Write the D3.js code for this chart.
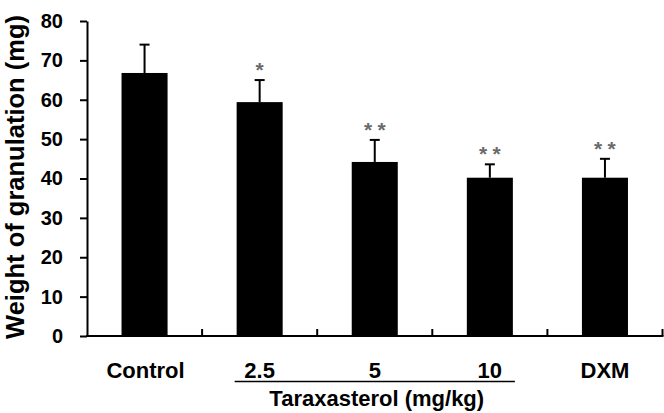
<!DOCTYPE html>
<html>
<head>
<meta charset="utf-8">
<script src="https://cdn.jsdelivr.net/npm/d3@7"></script>
<style>
  html, body { margin: 0; padding: 0; background: #fff; }
  svg { display: block; }
  text { font-family: "Liberation Sans", Arial, sans-serif; }
</style>
</head>
<body>
<script>
const categories = ["Control", "2.5", "5", "10", "DXM"];
const means = [66.8, 59.4, 44.2, 40.2, 40.2];
const sds = [7.2, 5.6, 5.6, 3.4, 4.8];
const significance = ["", "*", "**", "**", "**"];
const yTicks = [0, 10, 20, 30, 40, 50, 60, 70, 80];
const groupLabel = "Taraxasterol (mg/kg)";
const groupMembers = ["2.5", "5", "10"];
const yTitle = "Weight of granulation (mg)";

const W = 664, H = 413;
const svg = d3.select("body").append("svg").attr("width", W).attr("height", H);

const x = d3.scaleBand().domain(categories).range([87, 662.5]).paddingInner(0.6).paddingOuter(0.3);
const y = d3.scaleLinear().domain([0, 80]).range([336, 21]);

// bars
const data = categories.map((c, i) => ({ c, m: means[i], sd: sds[i], s: significance[i] }));
svg.selectAll("rect.bar").data(data).join("rect")
  .attr("class", "bar")
  .attr("x", d => x(d.c)).attr("width", x.bandwidth())
  .attr("y", d => y(d.m)).attr("height", d => y(0) - y(d.m))
  .attr("fill", "#000");

// error bars
const eb = svg.selectAll("g.eb").data(data).join("g").attr("class", "eb")
  .attr("transform", d => `translate(${x(d.c) + x.bandwidth() / 2},0)`);
eb.append("line").attr("x1", 0).attr("x2", 0)
  .attr("y1", d => y(d.m)).attr("y2", d => y(d.m + d.sd))
  .attr("stroke", "#000").attr("stroke-width", 2);
eb.append("line").attr("x1", -5).attr("x2", 5)
  .attr("y1", d => y(d.m + d.sd)).attr("y2", d => y(d.m + d.sd))
  .attr("stroke", "#000").attr("stroke-width", 2);

// significance stars
eb.each(function(d) {
  const g = d3.select(this);
  const n = d.s.length;
  for (let k = 0; k < n; k++) {
    const off = (k - (n - 1) / 2) * 13.5;
    g.append("text").attr("x", off).attr("y", y(d.m + d.sd) - 3)
      .attr("text-anchor", "middle").attr("font-size", 21).attr("font-weight", "bold")
      .attr("fill", "#6a6a6a").text("*");
  }
});

// y axis
const yAxis = svg.append("g").attr("transform", "translate(87,0)")
  .call(d3.axisLeft(y).tickValues(yTicks).tickSize(7).tickSizeOuter(0).tickPadding(17));
yAxis.select(".domain").attr("stroke", "#000").attr("stroke-width", 2);
yAxis.selectAll(".tick line").attr("stroke", "#000").attr("stroke-width", 2);
yAxis.selectAll(".tick text").attr("font-size", 20).attr("font-weight", "bold")
  .attr("font-family", "'Liberation Sans', Arial, sans-serif").attr("fill", "#000");

// x axis baseline and upward ticks at band boundaries
const x0 = x.range()[0], x1 = x.range()[1];
svg.append("line").attr("x1", x0 - 1).attr("x2", x1 + 1).attr("y1", y(0)).attr("y2", y(0))
  .attr("stroke", "#000").attr("stroke-width", 2);
const bounds = categories.map((c, i) => x0 + x.step() * (i + 1));
svg.selectAll("line.xt").data(bounds).join("line").attr("class", "xt")
  .attr("x1", d => d).attr("x2", d => d).attr("y1", y(0)).attr("y2", y(0) - 7)
  .attr("stroke", "#000").attr("stroke-width", 2);

// category labels
svg.selectAll("text.cat").data(categories).join("text").attr("class", "cat")
  .attr("x", d => x(d) + x.bandwidth() / 2 + (d === "Control" ? 1 : 0))
  .attr("y", 378).attr("text-anchor", "middle")
  .attr("font-size", 22).attr("font-weight", "bold").attr("fill", "#000").text(d => d);

// group underline + label
const gx0 = x(groupMembers[0]) - 2;
const gx1 = x(groupMembers[groupMembers.length - 1]) + x.bandwidth() + 2;
svg.append("line").attr("x1", gx0).attr("x2", gx1).attr("y1", 381.5).attr("y2", 381.5)
  .attr("stroke", "#000").attr("stroke-width", 1.5);
svg.append("text").attr("x", (gx0 + gx1) / 2 + 2).attr("y", 406).attr("text-anchor", "middle")
  .attr("font-size", 22).attr("font-weight", "bold").attr("fill", "#000").text(groupLabel);

// y title
svg.append("text").attr("transform", "translate(23.5,177) rotate(-90)")
  .attr("text-anchor", "middle").attr("font-size", 25.5).attr("font-weight", "bold")
  .attr("fill", "#000").text(yTitle);
</script>
</body>
</html>
